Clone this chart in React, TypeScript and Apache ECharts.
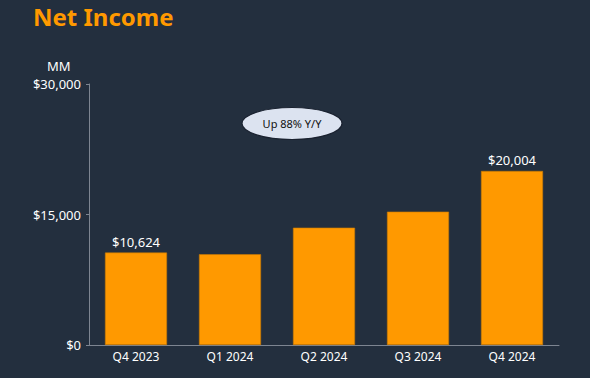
import React, { useEffect, useRef } from "react";
import * as echarts from "echarts";

const categories = ["Q4 2023", "Q1 2024", "Q2 2024", "Q3 2024", "Q4 2024"];
const netIncome = [10624, 10431, 13485, 15328, 20004];
const labelledIndexes = [0, 4];
const yTicks = [0, 15000, 30000];
const title = "Net Income";
const unitLabel = "MM";
const callout = "Up 88% Y/Y";

const FONT = "'Noto Sans', 'Open Sans', sans-serif";

export default function App() {
  const ref = useRef<HTMLDivElement>(null);
  useEffect(() => {
    document.body.style.margin = "0";
    const chart = echarts.init(ref.current!, null, { renderer: "svg" });
    chart.setOption({
      animation: false,
      backgroundColor: "#232F3E",
      textStyle: { fontFamily: FONT },
      title: {
        text: title,
        left: 28,
        top: -1,
        textStyle: { color: "#FF9900", fontSize: 24, fontWeight: "bold", fontFamily: FONT },
      },
      grid: { left: 89, right: 31, top: 84, bottom: 33 },
      xAxis: {
        type: "category",
        data: categories,
        axisLine: { lineStyle: { color: "#7D8591", width: 1 } },
        axisTick: { alignWithLabel: true, length: 3, lineStyle: { color: "#7D8591" } },
        axisLabel: { color: "#FFFFFF", fontSize: 12, margin: 5, fontFamily: FONT },
      },
      yAxis: {
        type: "value",
        min: yTicks[0],
        max: yTicks[yTicks.length - 1],
        interval: yTicks[1] - yTicks[0],
        splitLine: { show: false },
        axisLine: { show: true, lineStyle: { color: "#7D8591", width: 1 } },
        axisTick: { show: true, length: 3, lineStyle: { color: "#7D8591" } },
        axisLabel: {
          color: "#FFFFFF",
          fontSize: 13,
          margin: 8,
          fontFamily: FONT,
          formatter: (v: number) => "$" + v.toLocaleString("en-US"),
        },
      },
      series: [
        {
          type: "bar",
          data: netIncome.map((v, i) => ({
            value: v,
            label: {
              show: labelledIndexes.includes(i),
              position: "top",
              distance: 4,
              color: "#FFFFFF",
              fontSize: 13,
              fontFamily: FONT,
              formatter: (p: any) => "$" + Number(p.value).toLocaleString("en-US"),
            },
          })),
          barCategoryGap: "34%",
          itemStyle: { color: "#FF9900", borderColor: "#C87800", borderWidth: 0.6 },
        },
      ],
      graphic: [
        {
          type: "text",
          left: 47,
          top: 59,
          style: { text: unitLabel, fill: "#FFFFFF", fontSize: 13, fontFamily: FONT },
        },
        {
          type: "ellipse",
          shape: { cx: 292, cy: 123.5, rx: 50, ry: 16 },
          style: { fill: "#DCE3F0", stroke: "#1A2230", lineWidth: 1.2 },
        },
        {
          type: "text",
          x: 292,
          y: 123.5,
          style: {
            text: callout,
            fill: "#111111",
            fontSize: 11,
            fontFamily: FONT,
            align: "center",
            verticalAlign: "middle",
          },
        },
      ],
    });
    return () => chart.dispose();
  }, []);
  return <div ref={ref} style={{ width: 590, height: 378 }} />;
}
